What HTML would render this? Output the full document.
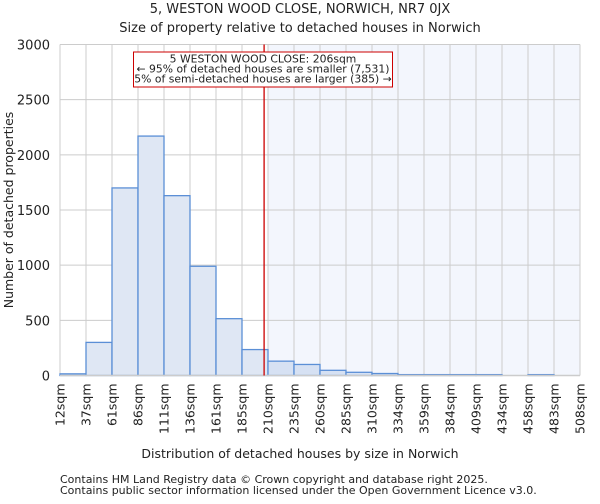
<!DOCTYPE html>
<html><head><meta charset="utf-8"><style>
body{margin:0;background:#fff;font-family:"DejaVu Sans","Liberation Sans",sans-serif;}
svg text{font-family:"DejaVu Sans","Liberation Sans",sans-serif;fill:#222;}
</style></head><body>
<svg id="c" width="600" height="500">
<text x="300" y="13" text-anchor="middle" font-size="13">5, WESTON WOOD CLOSE, NORWICH, NR7 0JX</text>
<text x="300" y="32" text-anchor="middle" font-size="13">Size of property relative to detached houses in Norwich</text>
<g id="grid"></g><g id="bars"></g><g id="axes"></g>
<text x="300" y="458" text-anchor="middle" font-size="12.5">Distribution of detached houses by size in Norwich</text>
<text transform="translate(13,210) rotate(-90)" text-anchor="middle" font-size="12.5" fill="#333">Number of detached properties</text>
<text x="60" y="483" font-size="11" fill="#444">Contains HM Land Registry data © Crown copyright and database right 2025.</text>
<text x="60" y="494" font-size="11" fill="#444">Contains public sector information licensed under the Open Government Licence v3.0.</text>
</svg>
<script>
const binLabels=["12sqm","37sqm","61sqm","86sqm","111sqm","136sqm","161sqm","185sqm","210sqm","235sqm","260sqm","285sqm","310sqm","334sqm","359sqm","384sqm","409sqm","434sqm","458sqm","483sqm","508sqm"];
const counts=[15,300,1700,2170,1630,990,515,235,130,100,47,29,18,8,8,8,8,0,8,0];
const yTicks=[0,500,1000,1500,2000,2500,3000];
const markerBin=7.85;
const X0=60,X1=580,Y0=375.5,Y1=44.5,YMAX=3000;
const NS="http://www.w3.org/2000/svg";
const bw=(X1-X0)/counts.length;
const xs=i=>X0+i*bw, ys=v=>Y0-(v/YMAX)*(Y0-Y1);
function mk(t,a,p){const e=document.createElementNS(NS,t);for(const k in a)e.setAttribute(k,a[k]);p.appendChild(e);return e;}
const grid=document.getElementById('grid'),bars=document.getElementById('bars'),axes=document.getElementById('axes');
const mx=xs(markerBin), shadeStart=xs(Math.ceil(markerBin));
const sh=mk('rect',{x:shadeStart,y:Y1,width:X1-shadeStart,height:Y0-Y1,fill:'#f3f6fd'},grid);


yTicks.forEach(v=>{const l=mk('line',{x1:X0,x2:X1,y1:ys(v),y2:ys(v),stroke:'#cccccc','stroke-width':1},grid);


const t=mk('text',{x:X0-10,y:ys(v)+5,'text-anchor':'end','font-size':13},axes);t.textContent=v;

});
binLabels.forEach((s,i)=>{const l=mk('line',{x1:xs(i),x2:xs(i),y1:Y1,y2:Y0,stroke:'#cccccc','stroke-width':1},grid);


const t=mk('text',{transform:`translate(${xs(i)+4.5},${Y0+8}) rotate(-90)`,'text-anchor':'end','font-size':12.5},axes);t.textContent=s;

});
counts.forEach((v,i)=>{if(v<=0)return;const r=mk('rect',{x:xs(i),y:ys(v),width:bw,height:Y0-ys(v),fill:i>=Math.ceil(markerBin)?'#d6e1f3':'#dfe7f4',stroke:'#5b8fd6','stroke-width':1.3},bars);

});
const ax=mk('line',{x1:X0,x2:X1,y1:Y0,y2:Y0,stroke:'#cccccc','stroke-width':1.5},axes);


const ml=mk('line',{x1:mx,x2:mx,y1:Y1,y2:Y0,stroke:'#cc0000','stroke-width':1.3},axes);


const bx=mk('rect',{x:133.5,y:52,width:259,height:35,fill:'#fff',stroke:'#cc0000','stroke-width':1},axes);


["5 WESTON WOOD CLOSE: 206sqm","← 95% of detached houses are smaller (7,531)","5% of semi-detached houses are larger (385) →"].forEach((s,i)=>{
const t=mk('text',{x:263,y:62.5+i*10,'text-anchor':'middle','font-size':10.8},axes);t.textContent=s;

});
</script>
</body></html>
